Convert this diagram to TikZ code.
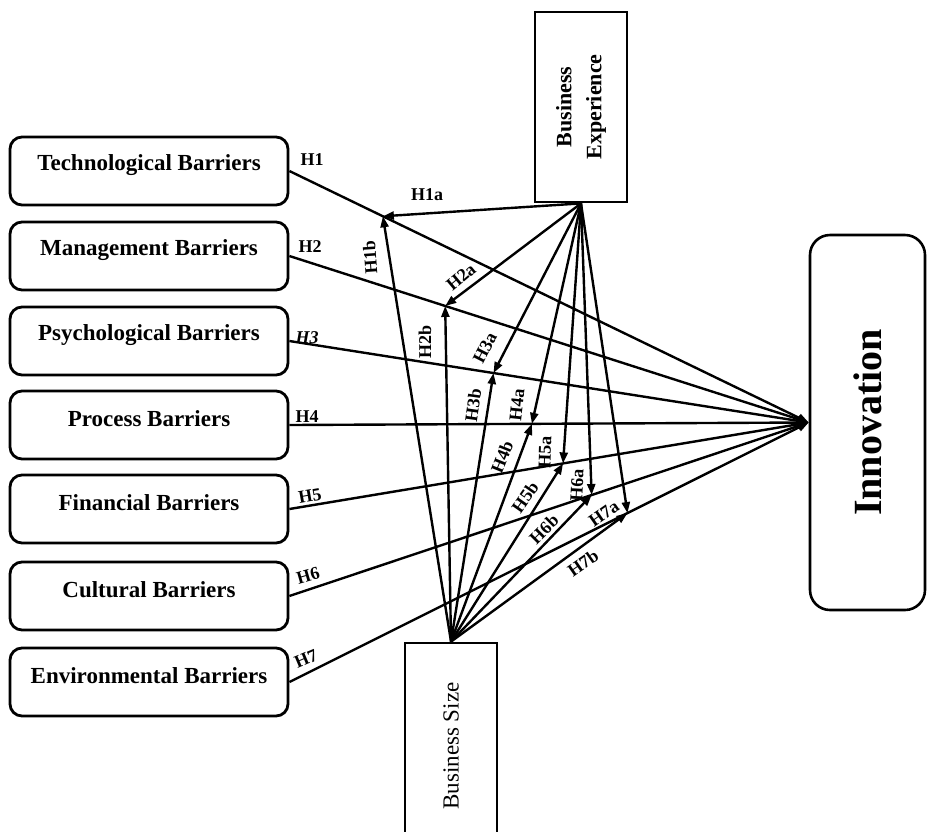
\documentclass[tikz,border=0pt]{standalone}
\usepackage{fontspec}
\setmainfont{Liberation Serif}
\usetikzlibrary{arrows.meta,calc}
\begin{document}
\begin{tikzpicture}[x=1pt,y=-1pt,
  barrier/.style={draw,line width=2.8pt,rounded corners=12pt,minimum width=278pt,minimum height=68pt,inner sep=0pt},
  blab/.style={font=\fontsize{23}{23}\selectfont\bfseries,inner sep=0pt,yshift=6pt},
  hyp/.style={font=\fontsize{18}{18}\selectfont\bfseries,inner sep=0pt},
  conn/.style={line width=2.4pt,-{Triangle[length=11pt,width=8pt]}},
  modbox/.style={draw,line width=2.8pt,minimum width=92pt,inner sep=0pt}]
\useasboundingbox (0,0) rectangle (928,831);

% barrier boxes
\node[barrier,label={[blab]center:Technological Barriers}] (tech) at (149,171) {};
\node[barrier,label={[blab]center:Management Barriers}] (man) at (149,256) {};
\node[barrier,label={[blab]center:Psychological Barriers}] (psy) at (149,341) {};
\node[barrier,label={[blab]center:Process Barriers}] (proc) at (149,425) {};
\node[barrier,label={[blab]center:Financial Barriers}] (fin) at (149,509) {};
\node[barrier,label={[blab]center:Cultural Barriers}] (cul) at (149,596) {};
\node[barrier,label={[blab]center:Environmental Barriers}] (env) at (149,682) {};

% innovation
\node[draw,line width=2.6pt,rounded corners=20pt,minimum width=115pt,minimum height=375pt,inner sep=0pt,
  label={[rotate=90,font=\fontsize{40}{40}\selectfont\bfseries,inner sep=0pt]center:Innovation}] (innov) at (867.5,422.5) {};

% moderators
\node[modbox,minimum height=190pt,
  label={[rotate=90,align=center,font=\fontsize{22}{30}\selectfont\bfseries,inner sep=0pt]center:Business\\Experience}] (be) at (581,107) {};
\node[modbox,minimum height=194pt,
  label={[rotate=90,font=\fontsize{23}{23}\selectfont,inner sep=0pt,xshift=-6pt]center:Business Size}] (bs) at (451,740) {};

% moderation points
\coordinate (m1) at ($(tech.east)!0.18!(innov.west)$);
\coordinate (m2) at ($(man.east)!0.30!(innov.west)$);
\coordinate (m3) at ($(psy.east)!0.393!(innov.west)$);
\coordinate (m4) at ($(proc.east)!0.467!(innov.west)$);
\coordinate (m5) at ($(fin.east)!0.527!(innov.west)$);
\coordinate (m6) at ($(cul.east)!0.582!(innov.west)$);
\coordinate (m7) at ($(env.east)!0.651!(innov.west)$);

% direct paths
\foreach \b in {tech,man,psy,proc,fin,cul,env}
  \draw[conn] (\b.east) -- (innov.west);

% moderation paths
\foreach \i in {1,...,7}{
  \draw[conn] (be.south) -- (m\i);
  \draw[conn] (bs.north) -- (m\i);
}

% labels
\node[hyp] (lH1) at (312,160) {H1};
\node[hyp] (lH2) at (310,247) {H2};
\node[hyp,font=\fontsize{18}{18}\selectfont\bfseries\itshape] (lH3) at (307,338) {H3};
\node[hyp] (lH4) at (307,417) {H4};
\node[hyp,rotate=10] (lH5) at (310,496) {H5};
\node[hyp,rotate=16] (lH6) at (308,576) {H6};
\node[hyp,rotate=23] (lH7) at (306,659) {H7};

\node[hyp] (lH1a) at (427,195) {H1a};
\node[hyp,rotate=94] (lH1b) at (370,257) {H1b};
\node[hyp,rotate=40] (lH2a) at (461,277) {H2a};
\node[hyp,rotate=90] (lH2b) at (425,342) {H2b};
\node[hyp,rotate=63] (lH3a) at (485,348) {H3a};
\node[hyp,rotate=82] (lH3b) at (473,405) {H3b};
\node[hyp,rotate=84] (lH4a) at (517,405) {H4a};
\node[hyp,rotate=68] (lH4b) at (502,457) {H4b};
\node[hyp,rotate=88] (lH5a) at (545,452) {H5a};
\node[hyp,rotate=55] (lH5b) at (525,497) {H5b};
\node[hyp,rotate=87] (lH6a) at (577,485) {H6a};
\node[hyp,rotate=45] (lH6b) at (544,529) {H6b};
\node[hyp,rotate=35] (lH7a) at (604,514) {H7a};
\node[hyp,rotate=35] (lH7b) at (583,563) {H7b};
\end{tikzpicture}
\end{document}
